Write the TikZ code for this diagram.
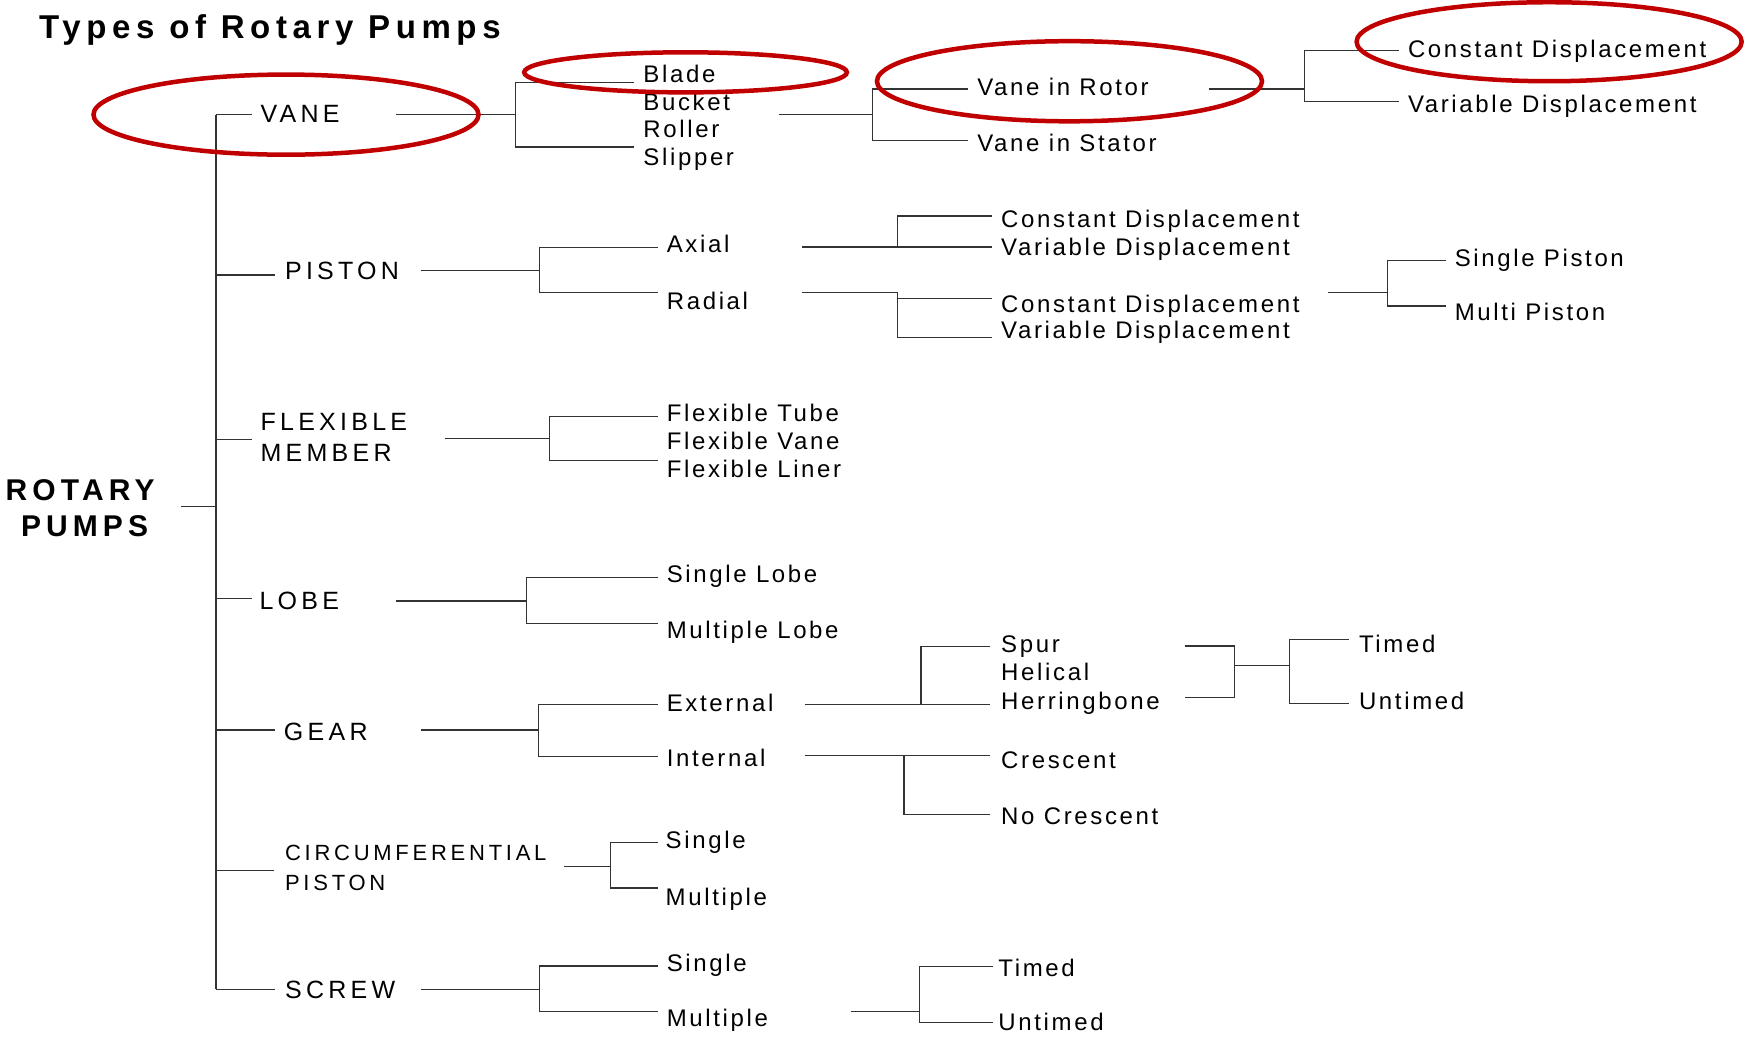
\documentclass[tikz,border=0pt]{standalone}
\usepackage{fontspec}
\setmainfont{Liberation Sans}
\newfontfamily\itemfont[LetterSpace=11]{Liberation Sans}
\newfontfamily\catfont[LetterSpace=17]{Liberation Sans}
\newfontfamily\titlefont[LetterSpace=17]{Liberation Sans}
\newfontfamily\rootfont[LetterSpace=17]{Liberation Sans}
\definecolor{ellred}{RGB}{192,0,0}
\tikzset{
  ln/.style={draw=black!80, line width=1.3pt},
  ell/.style={draw=ellred, line width=4.5pt},
  itm/.style={inner sep=0pt, anchor=west, text height=17.2pt, text depth=0pt,
    font=\itemfont\fontsize{24}{28}\selectfont},
  cat/.style={inner sep=0pt, anchor=west, text height=17.9pt, text depth=0pt,
    font=\catfont\fontsize{25}{30}\selectfont},
  catsm/.style={inner sep=0pt, anchor=west, text height=15.8pt, text depth=0pt,
    font=\catfont\fontsize{22}{26}\selectfont},
  rootlbl/.style={inner sep=0pt, anchor=center, text height=21.5pt, text depth=0pt,
    font=\rootfont\bfseries\fontsize{30}{36}\selectfont},
  ttl/.style={inner sep=0pt, anchor=west, text height=23.6pt, text depth=0pt,
    font=\titlefont\bfseries\fontsize{33}{40}\selectfont},
}
\begin{document}
\begin{tikzpicture}[x=1.1129pt, y=-1.1129pt]
\useasboundingbox (0,0) rectangle (1568,932);

% ---------- texts ----------
\node[ttl] (title) at (35,24) {Types of Rotary Pumps};
\node[rootlbl] (rotary) at (72,440) {ROTARY};
\node[rootlbl] (pumps) at (76,472) {PUMPS};

\node[cat] (vane) at (234,102) {VANE};
\node[cat] (piston) at (256,243) {PISTON};
\node[cat] (flexible) at (234,379) {FLEXIBLE};
\node[cat] (member) at (234,407) {MEMBER};
\node[cat] (lobe) at (233,540) {LOBE};
\node[cat] (gear) at (255,657) {GEAR};
\node[catsm] (circ) at (256,766) {CIRCUMFERENTIAL};
\node[catsm] (circp) at (256,793) {PISTON};
\node[cat] (screw) at (256,889) {SCREW};

\node[itm] (blade) at (578,66) {Blade};
\node[itm] (bucket) at (578,91.4) {Bucket};
\node[itm] (roller) at (578,116) {Roller};
\node[itm] (slipper) at (578,141) {Slipper};
\node[itm] (rotor) at (878,78) {Vane in Rotor};
\node[itm] (stator) at (878,128) {Vane in Stator};
\node[itm] (vcd) at (1265,44) {Constant Displacement};
\node[itm] (vvd) at (1265,93) {Variable Displacement};

\node[itm] (axial) at (599,219) {Axial};
\node[itm] (radial) at (599,270) {Radial};
\node[itm] (acd) at (899.5,196.7) {Constant Displacement};
\node[itm] (avd) at (899.5,221.6) {Variable Displacement};
\node[itm] (rcd) at (899.5,272.7) {Constant Displacement};
\node[itm] (rvd) at (899.5,296.6) {Variable Displacement};
\node[itm] (spist) at (1307,232) {Single Piston};
\node[itm] (mpist) at (1307,280) {Multi Piston};

\node[itm] (ftube) at (599,371) {Flexible Tube};
\node[itm] (fvane) at (599,396) {Flexible Vane};
\node[itm] (fliner) at (599,421) {Flexible Liner};

\node[itm] (slobe) at (599,516) {Single Lobe};
\node[itm] (mlobe) at (599,566) {Multiple Lobe};

\node[itm] (ext) at (599,632) {External};
\node[itm] (int) at (599,681) {Internal};
\node[itm] (spur) at (899.5,579) {Spur};
\node[itm] (helical) at (899.5,604) {Helical};
\node[itm] (herring) at (899.5,630) {Herringbone};
\node[itm] (gtimed) at (1221,579) {Timed};
\node[itm] (guntimed) at (1221,630) {Untimed};
\node[itm] (cresc) at (899.5,683) {Crescent};
\node[itm] (nocresc) at (899.5,733) {No Crescent};

\node[itm] (csingle) at (598,755) {Single};
\node[itm] (cmultiple) at (598,805.5) {Multiple};

\node[itm] (ssingle) at (599,865) {Single};
\node[itm] (smultiple) at (599,915) {Multiple};
\node[itm] (stimed) at (897,870) {Timed};
\node[itm] (suntimed) at (897,918) {Untimed};

% ---------- coordinates ----------
\coordinate (rootOut) at (163,455);
\coordinate (trunk) at (194,455);
\coordinate (tTop) at (194,103);
\coordinate (tBot) at (194,889);
\coordinate (bVane) at (226,103);
\coordinate (bPiston) at (247,247);
\coordinate (bFlex) at (226,395);
\coordinate (bLobe) at (226,538);
\coordinate (bGear) at (247,656);
\coordinate (bCirc) at (246,782);
\coordinate (bScrew) at (247,889);

\coordinate (vaneOut) at (356,103);
\coordinate (vaneJ) at (463,103);
\coordinate (bladeIn) at (570,74);
\coordinate (slipperIn) at (570,132);
\coordinate (bucketOut) at (700,103);
\coordinate (bucketJ) at (784,103);
\coordinate (rotorIn) at (870,80);
\coordinate (statorIn) at (870,126);
\coordinate (rotorOut) at (1086,80);
\coordinate (rotorJ) at (1172,80);
\coordinate (vcdIn) at (1257,45.5);
\coordinate (vvdIn) at (1257,91.4);

\coordinate (pistonOut) at (378,243);
\coordinate (pistonJ) at (484.6,243);
\coordinate (axialIn) at (591,222.5);
\coordinate (radialIn) at (591,263);
\coordinate (axialOut) at (721,222);
\coordinate (axJ) at (806.6,222);
\coordinate (acdIn) at (891.6,194);
\coordinate (avdIn) at (891.6,222);
\coordinate (radialOut) at (721,263);
\coordinate (raJ) at (806.6,263);
\coordinate (rcdIn) at (891.6,268);
\coordinate (rvdIn) at (891.6,303.4);
\coordinate (rcdOut) at (1193,263);
\coordinate (rcJ) at (1246.5,263);
\coordinate (spIn) at (1299,234);
\coordinate (mpIn) at (1299,275);

\coordinate (flexOut) at (399.5,394);
\coordinate (flexJ) at (494,394);
\coordinate (tubeIn) at (591,374);
\coordinate (linerIn) at (591,414);

\coordinate (lobeOut) at (356,540);
\coordinate (lobeJ) at (473,540);
\coordinate (slIn) at (591,519);
\coordinate (mlIn) at (591,560);

\coordinate (gearOut) at (378,656);
\coordinate (gearJ) at (484,656);
\coordinate (extIn) at (591,633);
\coordinate (intIn) at (591,680);
\coordinate (extOut) at (723,633);
\coordinate (extJ) at (827.6,633);
\coordinate (spurIn) at (890,581);
\coordinate (herrIn) at (890,633);
\coordinate (spurOut) at (1064.5,580.5);
\coordinate (herrOut) at (1064.5,627);
\coordinate (hJ) at (1109.5,598);
\coordinate (tJ) at (1159,598);
\coordinate (gtIn) at (1212,574.5);
\coordinate (guIn) at (1212,632);
\coordinate (intOut) at (723,679);
\coordinate (intJ) at (812.4,679);
\coordinate (crIn) at (890,679);
\coordinate (ncIn) at (890,731.7);

\coordinate (circOut) at (506.7,778.8);
\coordinate (circJ) at (548.6,778.8);
\coordinate (csIn) at (591,757);
\coordinate (cmIn) at (591,798);

\coordinate (screwOut) at (378,889);
\coordinate (screwJ) at (484.7,889);
\coordinate (ssIn) at (591,868);
\coordinate (smIn) at (591,909);
\coordinate (smOut) at (764.5,909);
\coordinate (smJ) at (826,909);
\coordinate (stIn) at (892,868.6);
\coordinate (suIn) at (892,919);

% ---------- connectors ----------
\draw[ln] (rootOut) -- (trunk);
\draw[ln] (tTop) -- (tBot);
\draw[ln] (tTop) -- (bVane);
\draw[ln] (bPiston -| tTop) -- (bPiston);
\draw[ln] (bFlex -| tTop) -- (bFlex);
\draw[ln] (bLobe -| tTop) -- (bLobe);
\draw[ln] (bGear -| tTop) -- (bGear);
\draw[ln] (bCirc -| tTop) -- (bCirc);
\draw[ln] (bScrew -| tTop) -- (bScrew);

\draw[ln] (vaneOut) -- (vaneJ);
\draw[ln] (bladeIn) -| (vaneJ) |- (slipperIn);
\draw[ln] (bucketOut) -- (bucketJ);
\draw[ln] (rotorIn) -| (bucketJ) |- (statorIn);
\draw[ln] (rotorOut) -- (rotorJ);
\draw[ln] (vcdIn) -| (rotorJ) |- (vvdIn);

\draw[ln] (pistonOut) -- (pistonJ);
\draw[ln] (axialIn) -| (pistonJ) |- (radialIn);
\draw[ln] (axialOut) -- (avdIn);
\draw[ln] (axJ) |- (acdIn);
\draw[ln] (radialOut) -- (raJ) |- (rvdIn);
\draw[ln] (raJ |- rcdIn) -- (rcdIn);
\draw[ln] (rcdOut) -- (rcJ);
\draw[ln] (spIn) -| (rcJ) |- (mpIn);

\draw[ln] (flexOut) -- (flexJ);
\draw[ln] (tubeIn) -| (flexJ) |- (linerIn);

\draw[ln] (lobeOut) -- (lobeJ);
\draw[ln] (slIn) -| (lobeJ) |- (mlIn);

\draw[ln] (gearOut) -- (gearJ);
\draw[ln] (extIn) -| (gearJ) |- (intIn);
\draw[ln] (extOut) -- (herrIn);
\draw[ln] (extJ) |- (spurIn);
\draw[ln] (spurOut) -| (hJ) |- (herrOut);
\draw[ln] (hJ) -- (tJ);
\draw[ln] (gtIn) -| (tJ) |- (guIn);
\draw[ln] (intOut) -- (crIn);
\draw[ln] (intJ) |- (ncIn);

\draw[ln] (circOut) -- (circJ);
\draw[ln] (csIn) -| (circJ) |- (cmIn);

\draw[ln] (screwOut) -- (screwJ);
\draw[ln] (ssIn) -| (screwJ) |- (smIn);
\draw[ln] (smOut) -- (smJ);
\draw[ln] (stIn) -| (smJ) |- (suIn);

% ---------- highlight ellipses ----------
\draw[ell] (257,103) ellipse [x radius=173, y radius=36];
\draw[ell] (616,65) ellipse [x radius=145, y radius=18];
\draw[ell] (961,73) ellipse [x radius=173, y radius=36];
\draw[ell] (1392,37.5) ellipse [x radius=173, y radius=35.5];
\end{tikzpicture}
\end{document}
